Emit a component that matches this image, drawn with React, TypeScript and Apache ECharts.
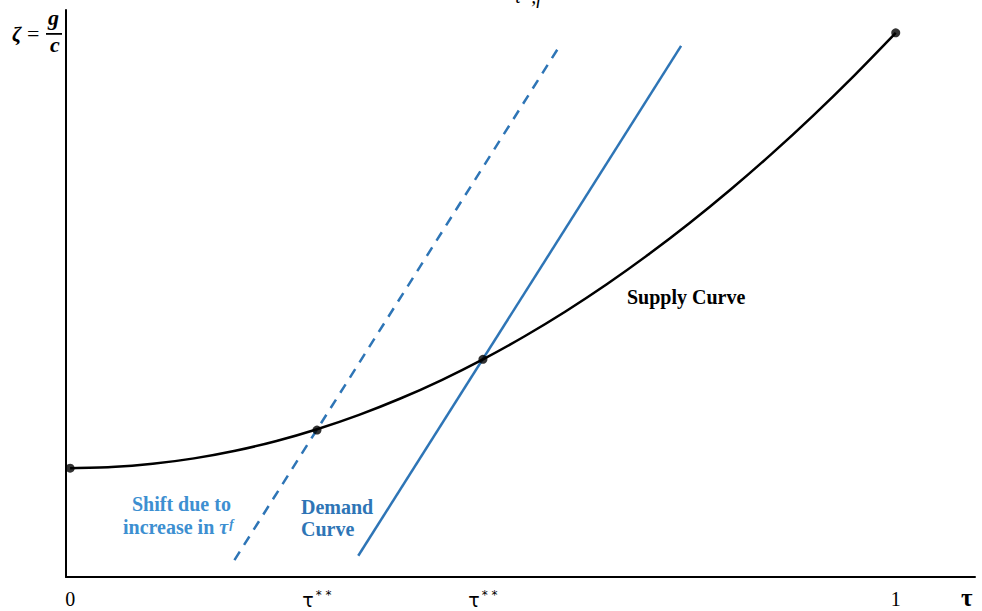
import React, { useEffect, useRef } from "react";
import * as echarts from "echarts";

// Supply curve samples (tau, zeta)
const supplyX = [0, 0.05, 0.1, 0.15, 0.2, 0.25, 0.3, 0.35, 0.4, 0.45, 0.5, 0.55, 0.6, 0.65, 0.7, 0.75, 0.8, 0.85, 0.9, 0.95, 1.0];
const supplyY = [0.2, 0.202, 0.208, 0.218, 0.232, 0.25, 0.272, 0.298, 0.328, 0.362, 0.4, 0.442, 0.488, 0.538, 0.592, 0.65, 0.712, 0.778, 0.848, 0.922, 1.0];
// Demand curve (solid) end points
const demandX = [0.349, 0.74];
const demandY = [0.039, 0.976];
// Shifted demand curve (dashed) end points
const shiftX = [0.199, 0.59];
const shiftY = [0.031, 0.969];
// Highlighted points on the supply curve
const dotX = [0, 0.299, 0.5, 1];
const dotY = [0.2, 0.27, 0.4, 1.0];
// X tick labels
const tickValues = [0, 0.299, 0.5, 1];
const tickLabels = ["0", "τ**", "τ**", "1"];

const BLUE = "#2e75b6";
const LIGHTBLUE = "#3d8fd1";
const SERIF = "'Liberation Serif', 'DejaVu Serif', serif";

export default function App() {
  const ref = useRef<HTMLDivElement>(null);
  useEffect(() => {
    if (!ref.current) return;
    const chart = echarts.init(ref.current, null, { renderer: "svg" });
    const zip = (xs: number[], ys: number[]) => xs.map((x, i) => [x, ys[i]]);
    chart.setOption({
      animation: false,
      backgroundColor: "#ffffff",
      grid: { left: 66, right: 7, top: 10, bottom: 34, containLabel: false },
      xAxis: {
        type: "value",
        min: -0.005,
        max: 1.096,
        splitLine: { show: false },
        axisLine: { show: true, onZero: false, lineStyle: { color: "#000", width: 2 } },
        axisTick: { show: false },
        axisLabel: {
          customValues: tickValues,
          margin: 12,
          formatter: (v: number) => {
            const i = tickValues.findIndex((t) => Math.abs(t - v) < 1e-6);
            const s = i >= 0 ? tickLabels[i] : "";
            if (s.startsWith("τ")) return "{t|τ}{s|* *}";
            return "{n|" + s + "}";
          },
          rich: {
            n: { fontFamily: SERIF, fontSize: 20, color: "#000" },
            t: { fontFamily: "'DejaVu Sans', sans-serif", fontSize: 19, color: "#000" },
            s: { fontFamily: "'DejaVu Sans', sans-serif", fontSize: 12, color: "#000", verticalAlign: "top", padding: [0, 0, 10, 2] },
          },
        },
      },
      yAxis: {
        type: "value",
        min: 0,
        max: 1.042,
        splitLine: { show: false },
        axisLine: { show: true, onZero: false, lineStyle: { color: "#000", width: 2 } },
        axisTick: { show: false },
        axisLabel: { show: false },
      },
      series: [
        {
          type: "line",
          data: zip(supplyX, supplyY),
          smooth: 0.3,
          showSymbol: false,
          lineStyle: { color: "#000", width: 2.5 },
          z: 3,
        },
        {
          type: "line",
          data: zip(demandX, demandY),
          showSymbol: false,
          lineStyle: { color: BLUE, width: 2.5 },
          z: 2,
        },
        {
          type: "line",
          data: zip(shiftX, shiftY),
          showSymbol: false,
          lineStyle: { color: BLUE, width: 2.5, type: [10, 8] },
          z: 2,
        },
        {
          type: "scatter",
          data: zip(dotX, dotY),
          symbolSize: 9,
          itemStyle: { color: "#000" },
          z: 5,
        },
      ],
      graphic: [
        { type: "text", left: 12, top: 23, style: { text: "ζ", font: "italic bold 21px " + SERIF, fill: "#000" } },
        { type: "text", left: 27, top: 22, style: { text: "=", font: "22px " + SERIF, fill: "#000" } },
        { type: "text", left: 48, top: 6, style: { text: "g", font: "italic bold 22px " + SERIF, fill: "#000" } },
        { type: "rect", shape: { x: 46, y: 33, width: 16, height: 1.8 }, style: { fill: "#000" } },
        { type: "text", left: 50, top: 33, style: { text: "c", font: "italic bold 22px " + SERIF, fill: "#000" } },
        { type: "text", left: 514, top: -14, style: { text: "τ*,f", font: "italic 20px " + SERIF, fill: "#000" } },
        { type: "text", left: 961, top: 585, style: { text: "τ", font: "bold 25px " + SERIF, fill: "#000" } },
        { type: "text", left: 627, top: 287, style: { text: "Supply Curve", font: "bold 20px " + SERIF, fill: "#000" } },
        { type: "text", left: 301, top: 496, style: { text: "Demand\nCurve", font: "bold 20px " + SERIF, fill: BLUE, lineHeight: 22 } },
        { type: "text", left: 132, top: 494, style: { text: "Shift due to", font: "bold 20px " + SERIF, fill: LIGHTBLUE } },
        {
          type: "text",
          left: 123,
          top: 517,
          style: {
            text: "{a|increase in }{b|τ}{c|f}",
            rich: {
              a: { font: "bold 20px " + SERIF, fill: LIGHTBLUE, lineHeight: 20 },
              b: { font: "italic bold 20px " + SERIF, fill: LIGHTBLUE, lineHeight: 20 },
              c: { font: "italic bold 13px " + SERIF, fill: LIGHTBLUE, verticalAlign: "top", padding: [0, 0, 7, 1], lineHeight: 20 },
            },
          },
        },
      ],
    });
    return () => chart.dispose();
  }, []);
  return <div ref={ref} style={{ position: "fixed", left: 0, top: 0, width: 982, height: 611 }} />;
}
